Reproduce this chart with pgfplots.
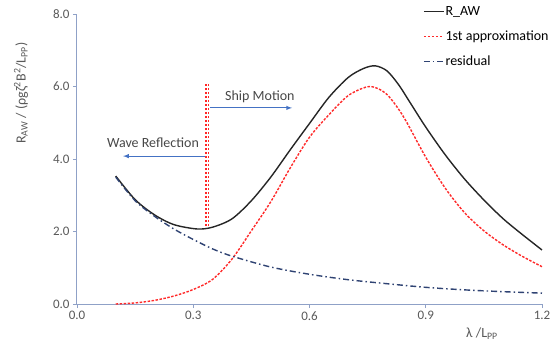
\documentclass[border=0pt]{standalone}
\usepackage{fontspec}
\setmainfont{Carlito}
\usepackage{pgfplots}
\pgfplotsset{compat=1.18}
\definecolor{axcol}{HTML}{8FA1C7}
\definecolor{tickcol}{HTML}{595959}
\definecolor{blackl}{HTML}{262626}
\definecolor{redl}{HTML}{FF2A2A}
\definecolor{resl}{HTML}{2F4373}
\definecolor{arrcol}{HTML}{4472C4}
\begin{document}
\begin{tikzpicture}
\begin{axis}[
  at={(0pt,0pt)}, anchor=south west,
  width=465pt, height=290pt, scale only axis,
  xmin=0, xmax=1.2, ymin=0, ymax=8,
  axis x line*=bottom, axis y line*=left,
  axis line style={color=axcol, line width=1pt},
  every tick/.style={color=axcol, line width=0.8pt},
  tick align=outside, major tick length=4pt,
  xtick={0,0.3,0.6,0.9,1.2}, ytick={0,2,4,6,8},
  tick label style={font=\fontsize{13}{15}\selectfont, color=tickcol},
  /pgf/number format/.cd, fixed, fixed zerofill, precision=1, assume math mode=true,
  /pgfplots/.cd,
  clip=false,
  legend style={at={(0.744,1.03)}, anchor=north west, draw=none, fill=none,
    font=\fontsize{14}{16}\selectfont, row sep=12pt, inner sep=0pt,
    nodes={inner sep=1pt}},
  legend cell align=left,
  legend image code/.code={\draw[#1] (0pt,0pt) -- (20pt,0pt);},
]
\addplot[color=blackl, line width=1.4pt, smooth, tension=0.5] coordinates {
 (0.10,3.53) (0.15,2.88) (0.20,2.46) (0.25,2.19) (0.31,2.07) (0.35,2.12)
 (0.40,2.35) (0.45,2.85) (0.50,3.50) (0.55,4.25) (0.60,4.98) (0.65,5.70)
 (0.70,6.25) (0.74,6.50) (0.77,6.57) (0.80,6.43) (0.83,6.05) (0.86,5.55)
 (0.90,4.88) (0.95,4.12) (1.00,3.45) (1.05,2.87) (1.10,2.35) (1.15,1.91) (1.20,1.49)};
\addlegendentry{R\_AW}
\addplot[color=redl, line width=1.4pt, dash pattern=on 2.5pt off 1.5pt, smooth, tension=0.5] coordinates {
 (0.10,0.0) (0.15,0.03) (0.20,0.10) (0.25,0.22) (0.30,0.40) (0.35,0.68)
 (0.40,1.24) (0.45,2.02) (0.50,2.82) (0.55,3.75) (0.60,4.60) (0.65,5.22)
 (0.70,5.75) (0.748,5.99) (0.775,5.95) (0.80,5.78) (0.825,5.45) (0.85,5.03)
 (0.90,4.05) (0.95,3.20) (1.00,2.52) (1.05,2.02) (1.10,1.63) (1.15,1.31) (1.20,1.03)};
\addlegendentry{1st approximation}
\addplot[color=resl, line width=1.4pt, dash pattern=on 6pt off 3pt on 1.5pt off 3pt, smooth, tension=0.5] coordinates {
 (0.10,3.50) (0.15,2.85) (0.20,2.42) (0.25,2.07) (0.30,1.78) (0.35,1.52)
 (0.40,1.32) (0.50,1.02) (0.60,0.82) (0.70,0.67) (0.80,0.56) (0.90,0.46)
 (1.00,0.39) (1.10,0.34) (1.20,0.30)};
\addlegendentry{residual}
% vertical separator (two parallel dashed lines)
\addplot[draw=red!85!white, line width=1.3pt, double=white, double distance=1.4pt, dash pattern=on 2.5pt off 1.5pt, mark=none, forget plot] coordinates {(0.3365,2.15) (0.3365,6.07)};
\draw[-latex, color=arrcol, line width=1pt] (axis cs:0.342,5.41) -- (axis cs:0.555,5.41);
\draw[-latex, color=arrcol, line width=1pt] (axis cs:0.331,4.08) -- (axis cs:0.119,4.08);
\node[font=\fontsize{14}{16}\selectfont, color=tickcol!80!black] at (axis cs:0.472,5.73) {Ship Motion};
\node[font=\fontsize{14}{16}\selectfont, color=tickcol!80!black] at (axis cs:0.196,4.45) {Wave Reflection};
\end{axis}
\node[rotate=90, font=\fontsize{14}{16}\selectfont, color=tickcol] at (-56pt,211pt) {R\textsubscript{AW} / (ρgζ\textsuperscript{2}B\textsuperscript{2}/L\textsubscript{PP})};
\node[font=\fontsize{14}{16}\selectfont, color=tickcol] at (405pt,-30pt) {λ /L\textsubscript{PP}};
\pgfresetboundingbox
\path[use as bounding box] (-77pt,-45pt) rectangle (478pt,304pt);
\end{tikzpicture}
\end{document}
